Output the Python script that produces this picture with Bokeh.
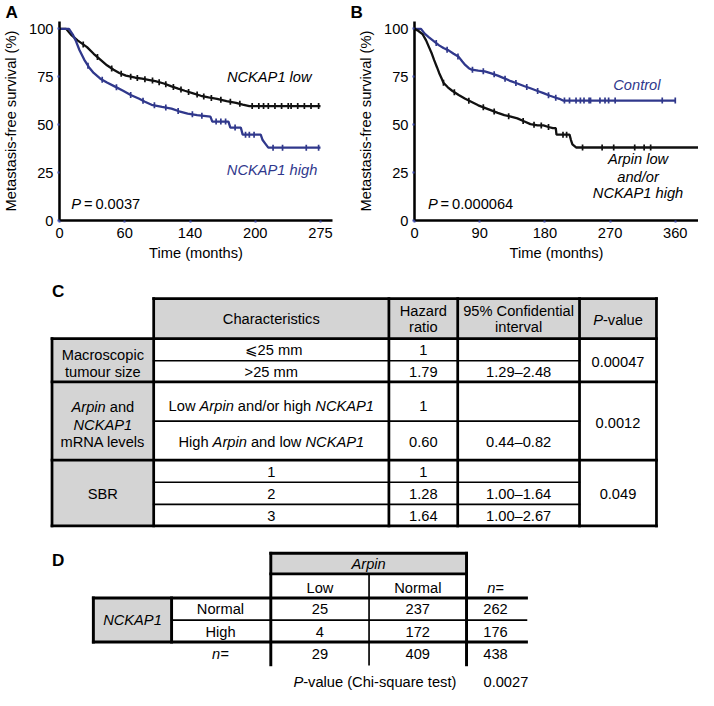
import numpy as np
from bokeh.plotting import figure
from bokeh.models import Range1d, FixedTicker
from bokeh.layouts import column, row
from bokeh.embed import file_html
from bokeh.resources import INLINE
from bokeh.core.properties import value

# ---------------- data ----------------
# Panel A: NCKAP1 low / high (time on drawn axis, survival %)
a_low_time = [0, 7, 12, 19, 29, 36, 43, 50, 57, 63, 70, 80, 87, 95, 101, 110, 118, 125, 132, 140,
              149, 157, 166, 176, 186, 193, 200, 275]
a_low_surv = [100, 100, 97, 94, 90.5, 87, 84, 81, 78.7, 77, 75.6, 74.5, 74, 73.3, 72.7, 71.5, 70, 68.8,
              67.7, 66.5, 65.1, 64.2, 63.5, 62.3, 61.4, 60.5, 59.7, 59.7]
a_low_cens = [25, 40, 55, 65, 75, 82, 90, 98, 105, 112, 120, 128, 136, 145, 152, 160, 170, 180, 190,
              203, 210, 215, 220, 227, 234, 241, 244, 251, 258, 265, 273]
a_high_time = [0, 10, 14, 17, 21, 26, 31, 36, 43, 50, 58, 67, 75, 84, 90, 97, 108, 118, 126, 135, 145,
               159, 161, 178, 180, 191, 193, 212, 214, 217, 220, 275]
a_high_surv = [100, 100, 97, 94, 89, 84, 80, 77, 74, 72, 70, 67.7, 65.5, 63.5, 62, 60.4, 59.3, 58.4, 57,
               55.8, 55, 54.2, 51.6, 51.6, 48.5, 48.5, 44.8, 44.8, 42, 40, 38, 38]
a_high_cens = [30, 45, 60, 75, 88, 100, 112, 125, 140, 150, 165, 170, 175, 185, 196, 200, 205, 225,
               235, 260, 273]
a_xtick_labels = ["0", "60", "140", "200", "275"]

# Panel B: Control / Arpin low and/or NCKAP1 high
b_ctrl_time = [0, 9, 14, 20, 27, 34, 40, 47, 54, 61, 66, 70, 75, 79, 88, 97, 106, 115, 124, 133, 142,
               151, 160, 169, 178, 187, 194, 200, 205, 360]
b_ctrl_surv = [100, 100, 97.5, 95.6, 93.5, 91.4, 90, 88.8, 87, 85.4, 83, 81.2, 79.5, 78.7, 78.2, 77.8,
               76.8, 75.6, 74.2, 72.7, 71.5, 70.2, 69, 67.7, 66.5, 65.1, 64.2, 63.5, 62.6, 62.6]
b_ctrl_cens = [30, 45, 60, 80, 95, 110, 125, 140, 155, 170, 185, 195, 207, 214, 223, 229, 234, 241,
               243, 256, 263, 268, 277, 342, 360]
b_low_time = [0, 5, 11, 16, 20, 24, 27, 31, 34, 37, 40, 46, 52, 61, 70, 79, 88, 97, 106, 115, 124, 133,
              142, 151, 160, 170, 178, 185, 191, 195, 196, 214, 216, 218, 223, 395]
b_low_surv = [100, 99, 97.3, 94, 90.5, 87, 83.8, 80, 77, 74.5, 71.9, 69.5, 67.7, 65.5, 63.5, 61.8, 60.1,
              58.8, 57.5, 56.2, 55, 54.2, 53.3, 51.8, 50.3, 49.6, 49.6, 48.8, 48.2, 48.2, 44.8, 44.8, 42,
              39.7, 38.1, 38.1]
b_low_cens = [40, 55, 75, 95, 110, 130, 150, 165, 175, 185, 205, 210, 232, 259, 275, 304, 317, 326]
b_xtick_labels = ["0", "90", "180", "270", "360"]
y_ticks = [0, 25, 50, 75, 100]

# Panel C: Cox model table
c_header = ["Characteristics", ["Hazard", "ratio"], ["95% Confidential", "interval"], "-value"]
c_groups = [
    [[("Macroscopic", False)], [("tumour size", False)]],
    [[("Arpin", True), (" and", False)], [("NCKAP1", True)], [("mRNA levels", False)]],
    [[("SBR", False)]],
]
c_characteristics = [
    [("\u2a7d25 mm", False)],
    [(">25 mm", False)],
    [("Low ", False), ("Arpin", True), (" and/or high ", False), ("NCKAP1", True)],
    [("High ", False), ("Arpin", True), (" and low ", False), ("NCKAP1", True)],
    [("1", False)], [("2", False)], [("3", False)],
]
c_hazard = ["1", "1.79", "1", "0.60", "1", "1.28", "1.64"]
c_ci = ["", "1.29\u20132.48", "", "0.44\u20130.82", "", "1.00\u20131.64", "1.00\u20132.67"]
c_pvalues = ["0.00047", "0.0012", "0.049"]

# Panel D: contingency table
d_arpin_levels = ["Low", "Normal"]
d_nckap1_levels = ["Normal", "High"]
d_counts = [[25, 237], [4, 172]]
d_row_totals = [262, 176]
d_col_totals = [29, 409]
d_total = 438
d_chi_p = "0.0027"

# ---------------- styling / layout ----------------
S = 698 / 714.0
FONT = "Liberation Sans"
FS = 15.0 * S
BLUE = "#30388c"
INK = "#111111"
GREY = "#d4d4d4"

WID = {' ': 278, '%': 889, '(': 333, ')': 333, '-': 333, '.': 278, '/': 278, '=': 584, '>': 584,
       '\u2a7d': 584, '\u2013': 556, '\u2009': 200}
for d in "0123456789":
    WID[d] = 556
WID.update(dict(zip("ABCDEFGHIJKLMNOPQRSTUVWXYZ",
                    [667, 667, 722, 722, 667, 611, 778, 722, 278, 500, 667, 556, 833, 722, 778, 667, 778,
                     722, 667, 611, 722, 667, 944, 667, 667, 611])))
WID.update(dict(zip("abcdefghijklmnopqrstuvwxyz",
                    [556, 556, 500, 556, 556, 278, 556, 556, 222, 222, 500, 222, 833, 556, 556, 556, 556,
                     333, 500, 278, 556, 500, 722, 500, 500, 500])))


def tw(s, size):
    return sum(WID.get(ch, 556) for ch in s) * size / 1000.0


def rich(p, x, y, segs, size=FS, color="black", align="center", bold=False):
    total = sum(tw(t, size) for t, _ in segs)
    off = {"center": -total / 2.0, "left": 0.0, "right": -total}[align]
    for t, it in segs:
        core = t.strip(" ")
        lead = len(t) - len(t.lstrip(" "))
        if core:
            style = (("bold " if bold else "") + ("italic" if it else "")).strip() or "normal"
            p.text(x=[x], y=[y], text=[core], x_offset=off + tw(" " * lead, size), text_align="left",
                   text_baseline="middle", text_font=value(FONT), text_font_size=f"{size:.2f}px",
                   text_font_style=style, text_color=color)
        off += tw(t, size)


H1 = 283
WA = 347
WB = 698 - WA
TOP = 20
BOT = 63
PXU = 1.97          # reference px per survival unit
YEND = (H1 - TOP - BOT) / S / PXU


def km(width, left, right, xend, tag):
    p = figure(width=width, height=H1, output_backend="svg", toolbar_location=None,
               x_range=Range1d(0, xend), y_range=Range1d(0, YEND),
               min_border_left=left, min_border_right=right, min_border_top=TOP, min_border_bottom=BOT)
    p.outline_line_color = None
    p.xgrid.visible = False
    p.ygrid.visible = False
    p.background_fill_color = "white"
    p.border_fill_color = "white"
    p.title.text = tag
    p.title.align = "left"
    p.title.offset = -(left - 3)
    p.title.standoff = 0
    p.title.text_font = FONT
    p.title.text_font_size = f"{17.5 * S:.1f}px"
    p.title.text_font_style = "bold"
    p.title.text_color = "black"
    for ax in (p.xaxis[0], p.yaxis[0]):
        ax.axis_line_width = 2.6 * S
        ax.axis_line_color = "black"
        ax.major_tick_line_color = "#3a48a8"
        ax.major_tick_line_width = 2
        ax.major_tick_in = 0
        ax.major_tick_out = 2
        ax.minor_tick_line_color = None
        ax.major_label_text_font = FONT
        ax.major_label_text_font_size = f"{FS:.2f}px"
        ax.major_label_text_color = "black"
        ax.axis_label_text_font = FONT
        ax.axis_label_text_font_size = f"{FS:.2f}px"
        ax.axis_label_text_font_style = "normal"
        ax.axis_label_text_color = "black"
    p.yaxis.ticker = FixedTicker(ticks=y_ticks)
    p.yaxis.axis_label = "Metastasis-free survival (%)"
    p.xaxis.axis_label = "Time (months)"
    p.yaxis.major_label_standoff = 4
    p.yaxis.axis_label_standoff = 7
    p.xaxis.major_label_standoff = 5
    p.xaxis.axis_label_standoff = 4
    return p


def curve(p, t, s, cens, color):
    p.line(t, s, line_color=color, line_width=2.3)
    cy = np.interp(cens, t, s)
    p.scatter(cens, cy, marker="dash", angle=np.pi / 2, size=6, line_color=color, line_width=1.7)


# ---- Panel A ----
a_xend = (WA - 57 - 15) / S / 0.978
pA = km(WA, 57, 15, a_xend, "A")
a_ticks = list(np.linspace(0, 275, len(a_xtick_labels)))
pA.xaxis.ticker = FixedTicker(ticks=a_ticks)
pA.xaxis.major_label_overrides = {float(k): v for k, v in zip(a_ticks, a_xtick_labels)}
curve(pA, a_low_time, a_low_surv, a_low_cens, INK)
curve(pA, a_high_time, a_high_surv, a_high_cens, BLUE)
rich(pA, 221, 75.1, [("NCKAP1 low", True)], color="black")
rich(pA, 224, 26.4, [("NCKAP1 high", True)], color=BLUE)
rich(pA, 12.3, 8.6, [("P", True), ("\u2009=\u20090.0037", False)], align="left")

# ---- Panel B ----
b_xend = (WB - 67) / S / 0.741
pB = km(WB, 67, 0, b_xend, "B")
b_ticks = [float(v) for v in b_xtick_labels]
pB.xaxis.ticker = FixedTicker(ticks=b_ticks)
curve(pB, b_ctrl_time, b_ctrl_surv, b_ctrl_cens, BLUE)
curve(pB, b_low_time, b_low_surv, b_low_cens, INK)
rich(pB, 307, 70.6, [("Control", True)], color=BLUE)
rich(pB, 308.6, 32.0, [("Arpin low", True)])
rich(pB, 308.6, 22.8, [("and/or", True)])
rich(pB, 308.6, 14.2, [("NCKAP1 high", True)])
rich(pB, 18.5, 8.6, [("P", True), ("\u2009=\u20090.000064", False)], align="left")

# ---- Tables (C, D) ----
H2 = 690 - H1
pC = figure(width=698, height=H2, output_backend="svg", toolbar_location=None,
            x_range=Range1d(0, 714), y_range=Range1d(290 + H2 / S, 290),
            x_axis_type=None, y_axis_type=None, min_border=0)
pC.outline_line_color = None
pC.grid.visible = False

# Table C geometry
cx = [52.7, 156.7, 397.3, 467.7, 592.3, 671]
hy0, hy1 = 305.5, 346.5
ry = [346.5, 369, 390.7, 430.7, 470.7, 493.3, 516, 538]
pC.quad(left=[cx[1], cx[0]], right=[cx[5], cx[1]], top=[hy0, hy1], bottom=[hy1, ry[-1]],
        fill_color=GREY, line_color=None)
thick = [(cx[1], hy0, cx[5], hy0), (cx[0], hy1, cx[5], hy1), (cx[0], ry[2], cx[5], ry[2]),
         (cx[0], ry[4], cx[5], ry[4]), (cx[0], ry[7], cx[5], ry[7]), (cx[0], hy1, cx[0], ry[7]),
         (cx[1], hy0, cx[1], ry[7]), (cx[5], hy0, cx[5], ry[7]),
         (cx[2], hy0, cx[2], ry[7]), (cx[3], hy0, cx[3], ry[7]), (cx[4], hy0, cx[4], ry[7])]
thin = [(cx[1], ry[i], cx[4], ry[i]) for i in (1, 3, 5, 6)]
for segs, lw in ((thick, 2.8), (thin, 1.7)):
    pC.segment(x0=[s[0] for s in segs], y0=[s[1] for s in segs], x1=[s[2] for s in segs],
               y1=[s[3] for s in segs], line_color="black", line_width=lw * S, line_cap="square")

ccen = [(cx[i] + cx[i + 1]) / 2 for i in range(5)]
rich(pC, ccen[1], 326, [(c_header[0], False)])
rich(pC, ccen[2], 318, [(c_header[1][0], False)])
rich(pC, ccen[2], 335, [(c_header[1][1], False)])
rich(pC, ccen[3], 318, [(c_header[2][0], False)])
rich(pC, ccen[3], 335, [(c_header[2][1], False)])
rich(pC, ccen[4], 327, [("P", True), (c_header[3], False)])

row_y = [358.5, 380.5, 415, 452, 483.3, 505.7, 527.7]
for i, y in enumerate(row_y):
    rich(pC, ccen[1], y, c_characteristics[i])
    rich(pC, ccen[2], y, [(c_hazard[i], False)])
    if c_ci[i]:
        rich(pC, ccen[3], y, [(c_ci[i], False)])
group_y = [[363, 380.5], [416, 434.5, 452], [505.5]]
for g, ys in zip(c_groups, group_y):
    for line, y in zip(g, ys):
        rich(pC, ccen[0], y, line)
for pv, y in zip(c_pvalues, [370, 433, 505]):
    rich(pC, ccen[4], y, [(pv, False)])

rich(pC, 52.7, 298, [("C", False)], size=17.5 * S, align="left", bold=True)
rich(pC, 52.7, 573, [("D", False)], size=17.5 * S, align="left", bold=True)

# Table D geometry
dx = [95, 175, 276.5, 377, 476.7, 538]
ay0, ay1 = 566, 587
dy = [611.7, 634.3, 656.7, 680]
pC.quad(left=[dx[2], dx[0]], right=[dx[4], dx[1]], top=[ay0, dy[0]], bottom=[ay1, dy[2]],
        fill_color=GREY, line_color=None)
dthick = [(dx[2], ay0, dx[4], ay0), (dx[2], ay1, dx[4], ay1), (dx[2], ay0, dx[2], dy[3]),
          (dx[4], ay0, dx[4], dy[3]), (dx[0], dy[0], dx[5], dy[0]), (dx[0], dy[2], dx[5], dy[2]),
          (dx[0], dy[0], dx[0], dy[2]), (dx[1], dy[0], dx[1], dy[2])]
dthin = [(dx[3], ay1, dx[3], dy[3]), (dx[1], dy[1], dx[5], dy[1])]
for segs, lw in ((dthick, 3.0), (dthin, 1.7)):
    pC.segment(x0=[s[0] for s in segs], y0=[s[1] for s in segs], x1=[s[2] for s in segs],
               y1=[s[3] for s in segs], line_color="black", line_width=lw * S, line_cap="square")

rich(pC, (dx[2] + dx[4]) / 2, 576.5, [("Arpin", True)])
col_c = [(dx[2] + dx[3]) / 2, (dx[3] + dx[4]) / 2, (dx[4] + dx[5]) / 2 - 1]
lab_c = 225
rich(pC, col_c[0], 601.7, [(d_arpin_levels[0], False)])
rich(pC, col_c[1], 601.7, [(d_arpin_levels[1], False)])
rich(pC, col_c[2], 601.7, [("n=", True)])
rich(pC, (dx[0] + dx[1]) / 2, 634, [("NCKAP1", True)])
d_row_y = [623.3, 646.5, 669]
for i in range(2):
    rich(pC, lab_c, d_row_y[i], [(d_nckap1_levels[i], False)])
    rich(pC, col_c[0], d_row_y[i], [(str(d_counts[i][0]), False)])
    rich(pC, col_c[1], d_row_y[i], [(str(d_counts[i][1]), False)])
    rich(pC, col_c[2], d_row_y[i], [(str(d_row_totals[i]), False)])
rich(pC, lab_c, d_row_y[2], [("n=", True)])
rich(pC, col_c[0], d_row_y[2], [(str(d_col_totals[0]), False)])
rich(pC, col_c[1], d_row_y[2], [(str(d_col_totals[1]), False)])
rich(pC, col_c[2], d_row_y[2], [(str(d_total), False)])
rich(pC, 383, 697.5, [("P", True), ("-value (Chi-square test)", False)])
rich(pC, 517, 697.5, [(d_chi_p, False)])

layout = column(row(pA, pB), pC)
open("out.html", "w").write(file_html(layout, INLINE))
